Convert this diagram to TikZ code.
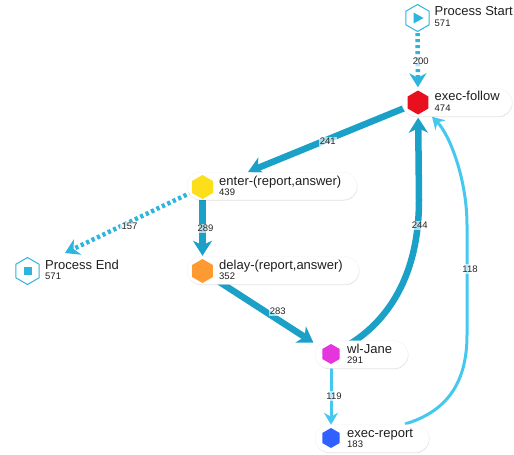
\documentclass[tikz,border=0pt]{standalone}
\usepackage{fontspec}
\setmainfont{Liberation Sans}
\usetikzlibrary{arrows.meta,shapes.geometric,shadows}
\definecolor{edgeDark}{HTML}{1BA0C8}
\definecolor{edgeMid}{HTML}{2DB5DE}
\definecolor{edgeLight}{HTML}{45C8F0}
\definecolor{hexRed}{HTML}{E8101F}
\definecolor{hexYellow}{HTML}{FCDF1A}
\definecolor{hexOrange}{HTML}{FF9A33}
\definecolor{hexMagenta}{HTML}{E535DC}
\definecolor{hexBlue}{HTML}{3060FF}
\pgfdeclarelayer{edges}
\pgfsetlayers{edges,main}
\tikzset{
  pill/.style={draw=black!5,line width=.4pt,fill=white,rounded corners=13.5pt,minimum height=27.5pt,inner sep=0pt,
    drop shadow={shadow xshift=0.4pt,shadow yshift=-0.8pt,opacity=.12,fill=black}},
  hexa/.style={regular polygon,regular polygon sides=6,shape border rotate=30,minimum size=#1,inner sep=0pt},
  tname/.style={anchor=base west,inner sep=0pt,font=\fontsize{13}{13}\selectfont,text=black!88},
  tcount/.style={anchor=base west,inner sep=0pt,font=\fontsize{9.5}{10}\selectfont,text=black!88},
  elabel/.style={font=\fontsize{9.5}{10}\selectfont,text=black!85,fill=white,fill opacity=.65,text opacity=1,inner sep=1.2pt},
  heavyedge/.style={draw=edgeDark,line width=6.5pt,-{Stealth[length=15pt,width=19pt,inset=4.5pt]}},
  dotedge/.style={draw=edgeMid,line width=4.5pt,dash pattern=on 3.2pt off 2.8pt,-{Stealth[length=14pt,width=17pt,inset=4.5pt]}},
  thinedge/.style={draw=edgeLight,line width=3pt,-{Stealth[length=12pt,width=14pt,inset=4pt]}},
}
\begin{document}
\begin{tikzpicture}[x=1pt,y=-1pt]
\useasboundingbox (0,0) rectangle (514,455);
% pills
\node[pill,minimum width=110pt] (pfollow) at (457,102.5) {};
\node[pill,minimum width=170pt] (penter) at (272,186) {};
\node[pill,minimum width=172pt] (pdelay) at (273,270.5) {};
\node[pill,minimum width=93pt] (pjane) at (361.5,354.5) {};
\node[pill,minimum width=114pt] (preport) at (372,438.5) {};
% hexagons
\node[hexa=27pt,draw=edgeMid,line width=1pt,fill=white] (hstart) at (417.5,18) {};
\node[hexa=27pt,draw=edgeMid,line width=1pt,fill=white] (hend) at (27.5,271) {};
\node[hexa=24pt,fill=hexRed] (hfollow) at (418,102.5) {};
\node[hexa=24pt,fill=hexYellow] (henter) at (202.5,187) {};
\node[hexa=24pt,fill=hexOrange] (hdelay) at (202.5,271) {};
\node[hexa=20pt,fill=hexMagenta] (hjane) at (331,354) {};
\node[hexa=20pt,fill=hexBlue] (hreport) at (331,438) {};
\fill[edgeMid] (413.5,12.5) -- (423.5,18) -- (413.5,23.5) -- cycle;
\fill[edgeMid] (23.5,267) rectangle (31.5,275);
\coordinate (tip241) at (248,172);
\coordinate (tail118) at (405,424);
% connectors
\begin{pgfonlayer}{edges}
\draw[dotedge,shorten <=1pt,shorten >=3pt] (hstart) -- node[elabel,pos=.5,xshift=3pt] (l200) {200} (hfollow);
\draw[heavyedge] (hfollow) -- node[elabel,pos=.5,yshift=-2pt] (l241) {241} (tip241);
\draw[dotedge,shorten >=28pt] (henter) -- node[elabel,pos=.41,yshift=-4pt] (l157) {157} (hend);
\draw[heavyedge,shorten >=3pt] (henter) -- node[elabel,pos=.49,xshift=3pt] (l289) {289} (hdelay);
\draw[heavyedge,shorten >=11pt] (hdelay) -- node[elabel,pos=.52,xshift=8pt,yshift=3pt] (l283) {283} (hjane);
\draw[heavyedge,shorten >=3pt] (hjane) .. controls (375,332) and (419,290) .. node[elabel,pos=.9,xshift=2pt] (l244) {244} (419,200) -- (hfollow);
\draw[thinedge,shorten >=3pt] (hjane) -- node[elabel,pos=.5,xshift=3pt] (l119) {119} (hreport);
\draw[thinedge,shorten >=9pt] (tail118) .. controls (445,412) and (467,385) .. (467,335) -- node[elabel,pos=.6,xshift=3pt] (l118) {118} (467,225) .. controls (467,180) and (450,135) .. (hfollow);
\end{pgfonlayer}
% texts
\node[tname] (tstart) at (434.5,16) {Process Start};
\node[tcount] (cstart) at (434.5,27) {571};
\node[tname] (tfollow) at (434.5,100.5) {exec-follow};
\node[tcount] (cfollow) at (434.5,111) {474};
\node[tname] (tenter) at (219,185) {enter-(report,answer)};
\node[tcount] (centerc) at (219,195) {439};
\node[tname] (tdelay) at (219,269) {delay-(report,answer)};
\node[tcount] (cdelay) at (219,279.5) {352};
\node[tname] (tend) at (45,269) {Process End};
\node[tcount] (cend) at (45,279.5) {571};
\node[tname] (tjane) at (347,353) {wl-Jane};
\node[tcount] (cjane) at (347,363.5) {291};
\node[tname] (treport) at (347,437) {exec-report};
\node[tcount] (creport) at (347,447.5) {183};
\end{tikzpicture}
\end{document}
